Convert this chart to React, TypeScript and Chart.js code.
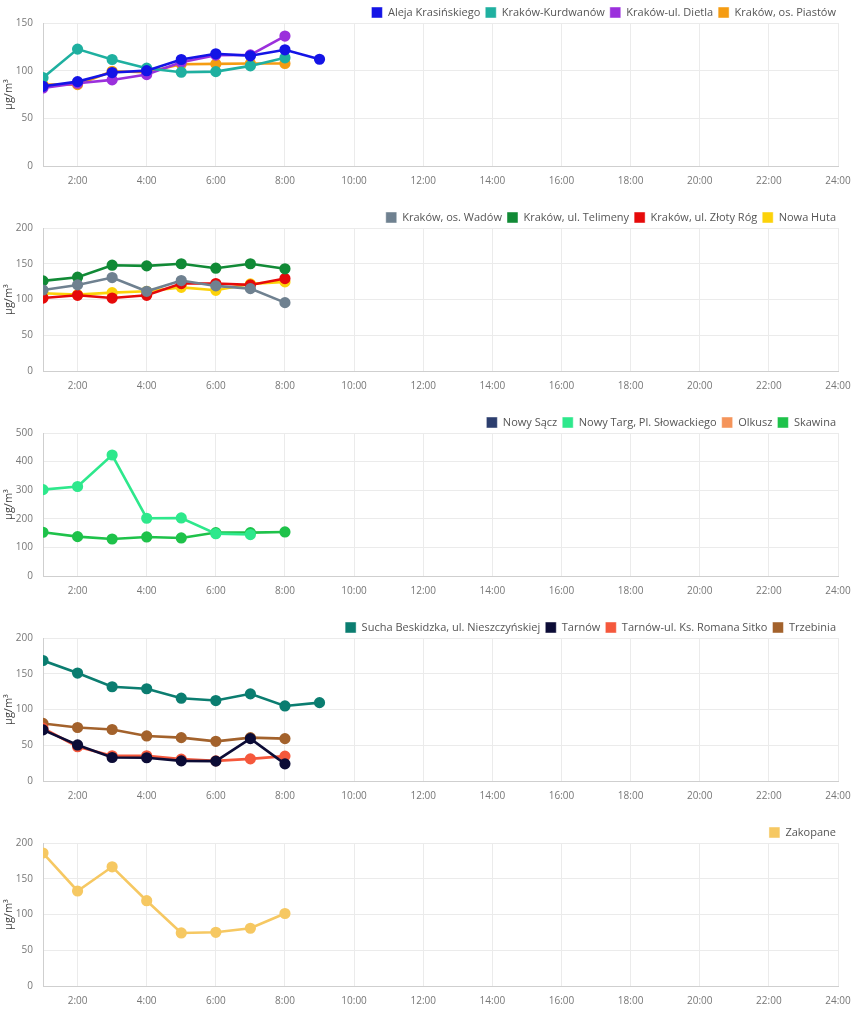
import React, { useEffect, useRef } from "react";
import { Chart, registerables } from "chart.js";
Chart.register(...registerables);

// ---- data ----
const HOURS = [1, 2, 3, 4, 5, 6, 7, 8, 9];
const X_TICKS = [2, 4, 6, 8, 10, 12, 14, 16, 18, 20, 22, 24];
const Y_TITLE = "µg/m³";

// chart 1
const alejaKrasinskiego = [83.6, 88.5, 98, 100, 111.7, 117.7, 115.6, 121.9, 112];
const krakowKurdwanow = [92.7, 122.6, 111.7, 102.6, 98.4, 99, 105, 113.5];
const krakowDietla = [81.9, 86.8, 90.3, 95.9, 108.9, 116.3, 116.6, 136.3];
const krakowPiastow = [85.4, 85.4, 99.4, 98.4, 106.8, 107.1, 107.5, 107.5];
// chart 2
const krakowWadow = [113.3, 120.4, 130.7, 111.5, 126.5, 119, 115.2, 95.6];
const krakowTelimeny = [126, 131.2, 148, 147, 150, 143.8, 150, 142.9];
const krakowZlotyRog = [102, 105.9, 102, 105.9, 122.3, 122.3, 120.4, 129.3];
const nowaHuta = [108.7, 106.8, 109.6, 111.5, 117, 112.9, 121.8, 124.6];
// chart 3
const nowySacz: number[] = [];
const nowyTarg = [302, 313, 423, 202, 203, 148, 145];
const olkusz: number[] = [];
const skawina = [153, 137.6, 129.4, 136.5, 133, 151.8, 151.8, 154];
// chart 4
const suchaBeskidzka = [168.5, 151, 131.8, 129, 115.8, 112.5, 121.9, 105, 109.6];
const tarnow = [71.5, 50.4, 32.9, 32.5, 28.2, 27.8, 59.3, 24];
const tarnowSitko = [73.9, 48, 35.3, 35.3, 30.6, 28.2, 31, 34.8];
const trzebinia = [80.5, 74.8, 72, 63, 60.7, 55.5, 60.7, 59.3];
// chart 5
const zakopane = [186, 132.9, 166.7, 119.3, 74.2, 75.1, 80.8, 101.4];

type Series = { label: string; color: string; values: number[] };

const CHARTS: { yMax: number; yStep: number; series: Series[] }[] = [
  {
    yMax: 150,
    yStep: 50,
    series: [
      { label: "Aleja Krasińskiego", color: "#1414e6", values: alejaKrasinskiego },
      { label: "Kraków-Kurdwanów", color: "#1fb0a0", values: krakowKurdwanow },
      { label: "Kraków-ul. Dietla", color: "#9b30dc", values: krakowDietla },
      { label: "Kraków, os. Piastów", color: "#f59c12", values: krakowPiastow },
    ],
  },
  {
    yMax: 200,
    yStep: 50,
    series: [
      { label: "Kraków, os. Wadów", color: "#6f8190", values: krakowWadow },
      { label: "Kraków, ul. Telimeny", color: "#118a36", values: krakowTelimeny },
      { label: "Kraków, ul. Złoty Róg", color: "#e60a0a", values: krakowZlotyRog },
      { label: "Nowa Huta", color: "#fcd20a", values: nowaHuta },
    ],
  },
  {
    yMax: 500,
    yStep: 100,
    series: [
      { label: "Nowy Sącz", color: "#2c3e6e", values: nowySacz },
      { label: "Nowy Targ, Pl. Słowackiego", color: "#2ee88c", values: nowyTarg },
      { label: "Olkusz", color: "#f5945a", values: olkusz },
      { label: "Skawina", color: "#1ec24a", values: skawina },
    ],
  },
  {
    yMax: 200,
    yStep: 50,
    series: [
      { label: "Sucha Beskidzka, ul. Nieszczyńskiej", color: "#0b7d70", values: suchaBeskidzka },
      { label: "Tarnów", color: "#0c0c36", values: tarnow },
      { label: "Tarnów-ul. Ks. Romana Sitko", color: "#f5583c", values: tarnowSitko },
      { label: "Trzebinia", color: "#a3622c", values: trzebinia },
    ],
  },
  {
    yMax: 200,
    yStep: 50,
    series: [{ label: "Zakopane", color: "#f6c862", values: zakopane }],
  },
];

const FONT = "'Open Sans', sans-serif";

const legendTweak = {
  id: "legendTweak",
  beforeInit(chart: any) {
    const lg = chart.legend;
    if (!lg) return;
    const orig = lg.fit;
    lg.fit = function () {
      orig.call(lg);
      lg.height -= 5;
    };
  },
  afterLayout(chart: any) {
    const lg = chart.legend;
    if (!lg) return;
    lg.right -= 8;
    lg.width -= 8;
  },
};

function StationChart({ series, yMax, yStep }: { series: Series[]; yMax: number; yStep: number }) {
  const ref = useRef<HTMLCanvasElement>(null);
  useEffect(() => {
    const chart = new Chart(ref.current!, {
      type: "line",
      data: {
        datasets: series.map((s) => ({
          label: s.label,
          data: s.values.map((v, i) => ({ x: HOURS[i], y: v })),
          borderColor: s.color,
          backgroundColor: s.color,
          pointBackgroundColor: s.color,
          pointBorderColor: s.color,
          borderWidth: 2.6,
          pointRadius: 4.3,
          tension: 0,
          fill: false,
        })),
      },
      plugins: [legendTweak],
      options: {
        animation: false,
        responsive: true,
        maintainAspectRatio: false,
        layout: { padding: { top: 2, right: 3, bottom: 9, left: 0 } },
        plugins: {
          tooltip: { enabled: false },
          legend: {
            position: "top",
            align: "end",
            labels: {
              boxWidth: 11,
              boxHeight: 11,
              padding: 5,
              color: "#555",
              font: { family: FONT, size: 11 },
              generateLabels: (c: any) =>
                Chart.defaults.plugins.legend.labels.generateLabels(c).map((it: any) => ({
                  ...it,
                  lineWidth: 1,
                  strokeStyle: "rgba(255,255,255,0.45)",
                })),
            },
          },
        },
        scales: {
          x: {
            type: "linear",
            min: 1,
            max: 24,
            afterBuildTicks: (s: any) => {
              s.ticks = X_TICKS.map((v) => ({ value: v }));
            },
            afterFit: (s: any) => {
              s.paddingRight = 14;
            },
            ticks: {
              padding: 9,
              color: "#777",
              font: { family: FONT, size: 10 },
              maxRotation: 0,
              autoSkip: false,
              callback: (v: any) => `${v}:00`,
            },
            grid: { color: "#ebebeb", drawTicks: false },
            border: { color: "#cfcfcf" },
          },
          y: {
            min: 0,
            max: yMax,
            ticks: {
              stepSize: yStep,
              padding: 10,
              color: "#777",
              font: { family: FONT, size: 10 },
            },
            afterFit: (s: any) => {
              s.width = 43;
            },
            title: {
              display: true,
              text: Y_TITLE,
              color: "#444",
              padding: { top: 2, bottom: 0 },
              font: { family: FONT, size: 11 },
            },
            grid: { color: "#ebebeb", drawTicks: false },
            border: { color: "#cfcfcf" },
          },
        },
      },
    } as any);
    return () => chart.destroy();
  }, [series, yMax, yStep]);
  return (
    <div style={{ position: "relative", width: 852, height: 205 }}>
      <canvas ref={ref} />
    </div>
  );
}

export default function App() {
  useEffect(() => {
    document.body.style.margin = "0";
    document.body.style.background = "#fff";
  }, []);
  return (
    <div style={{ width: 852, background: "#fff" }}>
      {CHARTS.map((c, i) => (
        <StationChart key={i} series={c.series} yMax={c.yMax} yStep={c.yStep} />
      ))}
    </div>
  );
}
